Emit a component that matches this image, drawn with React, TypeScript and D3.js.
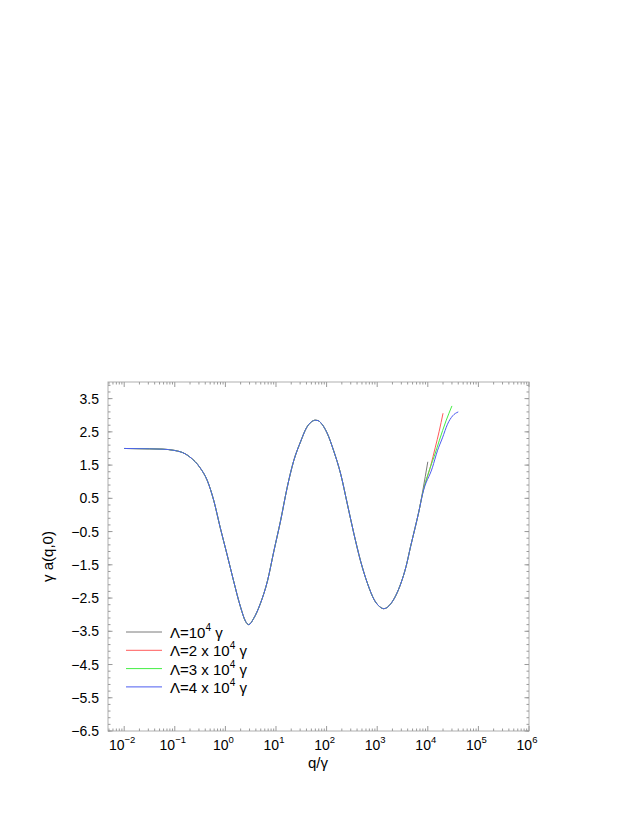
import React from 'react';
import * as d3 from 'd3';

// shared part of the curve (all four cutoffs agree here)
const qBase = [
  0.01, 0.0316, 0.056, 0.1, 0.16, 0.2, 0.316, 0.44, 0.59, 0.79, 1.07, 1.45, 2.0, 2.5, 2.9, 3.6,
  4.9, 6.8, 9.1, 12.3, 16.6, 22.4, 30.9, 40, 50, 60, 68, 76, 102, 138, 190, 257, 347, 468, 646,
  871, 1120, 1350, 1585, 1860, 2340, 2950, 3720, 4570, 5620, 6610,
];
const vBase = [
  2.0, 1.99, 1.98, 1.94, 1.84, 1.74, 1.42, 1.03, 0.43, -0.38, -1.17, -1.98, -2.78, -3.2, -3.3,
  -3.12, -2.67, -1.98, -1.08, -0.18, 0.82, 1.63, 2.22, 2.62, 2.8, 2.85, 2.84, 2.78, 2.47, 1.93,
  1.23, 0.33, -0.57, -1.38, -2.07, -2.55, -2.76, -2.82, -2.78, -2.67, -2.42, -2.05, -1.55, -0.95,
  -0.38, 0.08,
];

// where the curves split at large q
const qTail1 = [7940, 10000];
const vTail1 = [0.72, 1.6];
const qTail2 = [7940, 11500, 14000, 16800, 20000];
const vTail2 = [0.66, 1.5, 2.02, 2.52, 3.06];
const qTail3 = [7940, 11500, 13300, 16800, 22900, 30000];
const vTail3 = [0.66, 1.48, 1.75, 2.23, 2.83, 3.28];
const qTail4 = [7940, 12300, 15500, 19500, 24500, 30900, 40000];
const vTail4 = [0.65, 1.42, 1.93, 2.32, 2.73, 2.98, 3.1];

const seriesNames = ['10^4', '2 x 10^4', '3 x 10^4', '4 x 10^4'];
const seriesColors = ['#7a7a7a', '#ff5a5a', '#44ee44', '#4c5cf0'];

const xExponents = [-2, -1, 0, 1, 2, 3, 4, 5, 6];
const yTicks = [-6.5, -5.5, -4.5, -3.5, -2.5, -1.5, -0.5, 0.5, 1.5, 2.5, 3.5];

const width = 638;
const height = 825;
const frame = { left: 108, right: 529, top: 382, bottom: 731 };
const font = '"Liberation Sans", Arial, Helvetica, sans-serif';

const App = () => {
  const x = d3.scaleLog().domain([Math.pow(10, -2.32), 1e6]).range([frame.left, frame.right]);
  const y = d3.scaleLinear().domain([-6.5, 4.0]).range([frame.bottom, frame.top]);

  const tails = [
    [qTail1, vTail1],
    [qTail2, vTail2],
    [qTail3, vTail3],
    [qTail4, vTail4],
  ];
  const series = tails.map(([qs, vs]) => {
    const pts: [number, number][] = qBase.map((q, i) => [q, vBase[i]]);
    qs.forEach((q, i) => pts.push([q, vs[i]]));
    return pts;
  });

  const line = d3
    .line<[number, number]>()
    .x((d) => x(d[0]))
    .y((d) => y(d[1]))
    .curve(d3.curveMonotoneX);

  // minor x ticks 2..9 per decade
  const xMinor: number[] = [];
  for (let e = -3; e < 6; e++) {
    for (let m = 2; m <= 9; m++) {
      const v = m * Math.pow(10, e);
      if (v >= x.domain()[0] && v <= 1e6) xMinor.push(v);
    }
  }
  const yMinor = d3.range(-6.5, 4.001, 0.2).map((v) => +v.toFixed(2));

  const tickColor = '#9a9a9a';

  return (
    <svg
      width={width}
      height={height}
      style={{ position: 'absolute', left: 0, top: 0, background: '#fff' }}
      fontFamily={font}
    >
      <rect
        x={frame.left}
        y={frame.top}
        width={frame.right - frame.left}
        height={frame.bottom - frame.top}
        fill="none"
        stroke="#b0b0b0"
        strokeWidth={1}
      />

      {/* x ticks, bottom and top */}
      <g stroke={tickColor} strokeWidth={1}>
        {xExponents.map((e) => {
          const px = x(Math.pow(10, e));
          return (
            <g key={'xM' + e}>
              <line x1={px} x2={px} y1={frame.bottom} y2={frame.bottom - 5} />
              <line x1={px} x2={px} y1={frame.top} y2={frame.top + 5} />
            </g>
          );
        })}
        {xMinor.map((v, i) => {
          const px = x(v);
          return (
            <g key={'xm' + i}>
              <line x1={px} x2={px} y1={frame.bottom} y2={frame.bottom - 2.5} />
              <line x1={px} x2={px} y1={frame.top} y2={frame.top + 2.5} />
            </g>
          );
        })}
        {yTicks.map((v) => (
          <g key={'yM' + v}>
            <line x1={frame.left} x2={frame.left + 4.5} y1={y(v)} y2={y(v)} />
            <line x1={frame.right} x2={frame.right - 4.5} y1={y(v)} y2={y(v)} />
          </g>
        ))}
        {yMinor.map((v, i) => (
          <g key={'ym' + i}>
            <line x1={frame.left} x2={frame.left + 2.5} y1={y(v)} y2={y(v)} />
            <line x1={frame.right} x2={frame.right - 2.5} y1={y(v)} y2={y(v)} />
          </g>
        ))}
      </g>

      {/* tick labels */}
      <g fontSize={14} fill="#000">
        {xExponents.map((e) => (
          <text key={'xl' + e} x={x(Math.pow(10, e)) - 2} y={750} textAnchor="middle">
            10
            <tspan fontSize={9.5} dy={-7}>
              {e < 0 ? '\u2212' + Math.abs(e) : String(e)}
            </tspan>
          </text>
        ))}
        {yTicks.map((v) => (
          <text key={'yl' + v} x={99} y={y(v) + 5} textAnchor="end">
            {d3.format('.1f')(v)}
          </text>
        ))}
      </g>

      {/* axis titles */}
      <text x={318} y={768} textAnchor="middle" fontSize={15}>
        q/γ
      </text>
      <text
        transform={`translate(53, ${(frame.top + frame.bottom) / 2}) rotate(-90)`}
        textAnchor="middle"
        fontSize={15}
      >
        γ a(q,0)
      </text>

      {/* curves */}
      <g fill="none" strokeWidth={1}>
        {series.map((pts, i) => (
          <path key={'s' + i} d={line(pts) || ''} stroke={seriesColors[i]} />
        ))}
      </g>

      {/* legend */}
      <g fontSize={15}>
        {seriesNames.map((name, i) => {
          const ly = 632 + i * 18.3;
          const [pre, exp] = name.split('^');
          return (
            <g key={'lg' + i}>
              <line x1={126} x2={162} y1={ly} y2={ly} stroke={seriesColors[i]} strokeWidth={1} />
              <text x={170} y={ly + 6}>
                {'Λ=' + pre}
                <tspan fontSize={10} dy={-7}>
                  {exp}
                </tspan>
                <tspan dy={7}>{' γ'}</tspan>
              </text>
            </g>
          );
        })}
      </g>
    </svg>
  );
};

export default App;
